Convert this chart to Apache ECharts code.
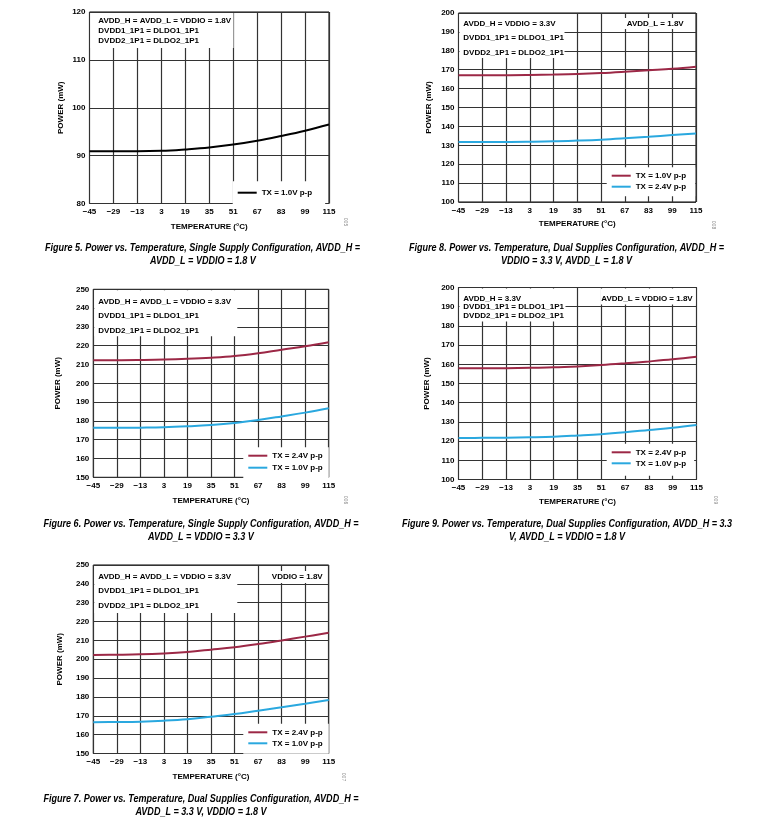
<!DOCTYPE html>
<html>
<head>
<meta charset="utf-8">
<script src="https://cdn.jsdelivr.net/npm/echarts@6/dist/echarts.min.js"></script>
<style>
html,body{margin:0;padding:0;background:#fff;}
#c{width:760px;height:818px;}
</style>
</head>
<body>
<div id="c"></div>
<script>
// ---- data ----
const temps = ['-45','-29','-13','3','19','35','51','67','83','99','115'];

// Figure 5 (single supply, 1.8 V)
const fig5_tx10 = [90.9, 90.9, 90.9, 91.0, 91.3, 91.7, 92.3, 93.1, 94.1, 95.2, 96.5];
// Figure 8 (dual supplies, AVDD_H = VDDIO = 3.3 V, AVDD_L = 1.8 V)
const fig8_tx10 = [167.1, 167.1, 167.1, 167.2, 167.4, 167.7, 168.2, 168.9, 169.7, 170.5, 171.6];
const fig8_tx24 = [131.8, 131.8, 131.8, 131.9, 132.1, 132.5, 133.0, 133.7, 134.5, 135.4, 136.3];
// Figure 6 (single supply, 3.3 V)
const fig6_tx24 = [212.3, 212.3, 212.4, 212.6, 213.0, 213.6, 214.5, 216.0, 217.9, 219.7, 221.8];
const fig6_tx10 = [176.3, 176.3, 176.4, 176.6, 177.1, 177.8, 178.9, 180.5, 182.4, 184.4, 186.7];
// Figure 9 (dual supplies, AVDD_H = 3.3 V, AVDD_L = VDDIO = 1.8 V)
const fig9_tx24 = [157.9, 157.9, 158.0, 158.2, 158.4, 158.9, 159.6, 160.5, 161.5, 162.6, 163.9];
const fig9_tx10 = [121.6, 121.7, 121.8, 122.0, 122.3, 122.9, 123.6, 124.6, 125.8, 127.0, 128.4];
// Figure 7 (dual supplies, AVDD_H = AVDD_L = 3.3 V, VDDIO = 1.8 V)
const fig7_tx24 = [202.3, 202.4, 202.6, 203.1, 203.9, 205.1, 206.4, 208.1, 210.0, 212.0, 214.0];
const fig7_tx10 = [166.6, 166.7, 166.9, 167.4, 168.2, 169.5, 170.9, 172.7, 174.5, 176.4, 178.4];

const RED = '#9c2846', BLUE = '#2aa8df', BLACK = '#000';

// ---- panel layout / styling ----
const panels = [
  { id:'f5', grid:{left:89.5, top:12, width:239.5, height:191.5}, y:[80,120], yGap:25, xGap:19,
    series:[{name:'TX = 1.0V p-p', data:fig5_tx10, color:BLACK}],
    legend:{left:232.7, top:181.2, padding:[7,13,7,5], gap:2} },
  { id:'f8', grid:{left:458.5, top:13, width:237.5, height:189}, y:[100,200], yGap:26, xGap:18,
    series:[{name:'TX = 1.0V p-p', data:fig8_tx10, color:RED},{name:'TX = 2.4V p-p', data:fig8_tx24, color:BLUE}],
    legend:{left:606.7, top:167.2, padding:[4,9,5,5], gap:2} },
  { id:'f6', grid:{left:93.3, top:289.3, width:235.4, height:188}, y:[150,250], yGap:32, xGap:19,
    series:[{name:'TX = 2.4V p-p', data:fig6_tx24, color:RED},{name:'TX = 1.0V p-p', data:fig6_tx10, color:BLUE}],
    legend:{left:243.3, top:447.2, padding:[4,6,6,5], gap:3} },
  { id:'f9', grid:{left:458.5, top:287.5, width:238, height:192}, y:[100,200], yGap:28, xGap:18,
    series:[{name:'TX = 2.4V p-p', data:fig9_tx24, color:RED},{name:'TX = 1.0V p-p', data:fig9_tx10, color:BLUE}],
    legend:{left:606.7, top:443.8, padding:[4,8,8,5], gap:2} },
  { id:'f7', grid:{left:93.3, top:565, width:235.4, height:188.5}, y:[150,250], yGap:30, xGap:19,
    series:[{name:'TX = 2.4V p-p', data:fig7_tx24, color:RED},{name:'TX = 1.0V p-p', data:fig7_tx10, color:BLUE}],
    legend:{left:243.3, top:723.8, padding:[4,6,6,5], gap:2} }
];

const FONT = '"Liberation Sans", Arial, sans-serif';
const grids = [], xAxes = [], yAxes = [], series = [], legends = [];
panels.forEach((p, i) => {
  grids.push(Object.assign({show:true, borderColor:'#000', borderWidth:1, backgroundColor:'#fff'}, p.grid));
  xAxes.push({
    type:'category', gridIndex:i, data:temps, boundaryGap:false,
    name:'TEMPERATURE (°C)', nameLocation:'middle', nameGap:p.xGap,
    nameTextStyle:{fontFamily:FONT, fontWeight:'bold', fontSize:8, color:'#000'},
    axisLine:{show:false}, axisTick:{show:false},
    axisLabel:{fontFamily:FONT, fontWeight:'bold', fontSize:8, color:'#000', margin:4.5, interval:0,
      formatter:v => v.replace('-', '\u2212')},
    splitLine:{show:true, lineStyle:{color:'#333', width:1.2}}
  });
  yAxes.push({
    type:'value', gridIndex:i, min:p.y[0], max:p.y[1], interval:10,
    name:'POWER (mW)', nameLocation:'middle', nameGap:p.yGap,
    nameTextStyle:{fontFamily:FONT, fontWeight:'bold', fontSize:8, color:'#000'},
    axisLine:{show:false}, axisTick:{show:false},
    axisLabel:{fontFamily:FONT, fontWeight:'bold', fontSize:8, color:'#000', margin:4},
    splitLine:{show:true, lineStyle:{color:'#333', width:1.2}}
  });
  const names = [];
  p.series.forEach(s => {
    const nm = p.id + '|' + s.name;
    names.push(nm);
    series.push({
      type:'line', name:nm, xAxisIndex:i, yAxisIndex:i, data:s.data,
      smooth:0.4, showSymbol:false, symbol:'none', color:s.color,
      lineStyle:{color:s.color, width:2}, z:3, animation:false
    });
  });
  legends.push({
    data:names, orient:'vertical', left:p.legend.left, top:p.legend.top,
    padding:p.legend.padding, itemGap:p.legend.gap, backgroundColor:'#fff',
    icon:'rect', itemWidth:19, itemHeight:2, itemStyle:{borderWidth:0},
    selectedMode:false, z:6,
    textStyle:{fontFamily:FONT, fontWeight:'bold', fontSize:8, color:'#000', lineHeight:9, padding:[0,0,0,0]},
    formatter:n => n.split('|')[1]
  });
});

// ---- annotation text boxes ----
const TFONT = 'bold 8px "Liberation Sans", Arial, sans-serif';
const CFONT = 'italic bold 10.5px "Liberation Sans", Arial, sans-serif';
// horizontal condensation of caption font (mimics a narrow face) — measured so line 1 of Fig 5 spans ~315 px
const mctx = document.createElement('canvas').getContext('2d');
mctx.font = CFONT;
const CAP_SCALE = 315 / mctx.measureText('Figure 5. Power vs. Temperature, Single Supply Configuration, AVDD_H =').width;

const g = [];
function box(x, y, w, h){ g.push({type:'rect', shape:{x:x, y:y, width:w, height:h}, style:{fill:'#fff'}, z:5}); }
function txt(s, x, y, align){ g.push({type:'text', z:6, style:{text:s, x:x, y:y, font:TFONT, fill:'#000',
  align:align||'left', verticalAlign:'middle', textAlign:align||'left', textVerticalAlign:'middle'}}); }
function cap(s, x, y){ g.push({type:'text', z:6, x:x, y:y, scaleX:CAP_SCALE, style:{text:s, x:0, y:0, font:CFONT, fill:'#000',
  align:'center', verticalAlign:'middle', textAlign:'center', textVerticalAlign:'middle'}}); }
function fid(s, x, y){ g.push({type:'text', z:6, x:x, y:y, rotation:-Math.PI/2, style:{text:s, x:0, y:0,
  font:'5px "Liberation Sans", Arial, sans-serif', fill:'#888', align:'center', verticalAlign:'middle'}}); }

// Fig 5
box(90.5, 13, 143, 35);
txt('AVDD_H = AVDD_L = VDDIO = 1.8V', 98.3, 20.7);
txt('DVDD1_1P1 = DLDO1_1P1', 98.3, 30.7);
txt('DVDD2_1P1 = DLDO2_1P1', 98.3, 40.7);
// Fig 8
box(459.5, 14, 105, 44);
txt('AVDD_H = VDDIO = 3.3V', 463.3, 23.3);
txt('DVDD1_1P1 = DLDO1_1P1', 463.3, 37.7);
txt('DVDD2_1P1 = DLDO2_1P1', 463.3, 52.3);
box(624, 18, 64, 11);
txt('AVDD_L = 1.8V', 626.7, 23.3);
// Fig 6
box(94.3, 290.3, 143, 46);
txt('AVDD_H = AVDD_L = VDDIO = 3.3V', 98.3, 301.7);
txt('DVDD1_1P1 = DLDO1_1P1', 98.3, 316);
txt('DVDD2_1P1 = DLDO2_1P1', 98.3, 330.7);
// Fig 9
box(459.5, 288.5, 106, 33);
txt('AVDD_H = 3.3V', 463.3, 298.3);
txt('DVDD1_1P1 = DLDO1_1P1', 463.3, 306.9);
txt('DVDD2_1P1 = DLDO2_1P1', 463.3, 315.7);
box(600.5, 288.5, 95, 16);
txt('AVDD_L = VDDIO = 1.8V', 692.7, 298.3, 'right');
// Fig 7
box(94.3, 566, 143, 47);
txt('AVDD_H = AVDD_L = VDDIO = 3.3V', 98.3, 576.7);
txt('DVDD1_1P1 = DLDO1_1P1', 98.3, 591);
txt('DVDD2_1P1 = DLDO2_1P1', 98.3, 606);
box(270, 571, 56, 12);
txt('VDDIO = 1.8V', 322.7, 576.7, 'right');

// captions
cap('Figure 5. Power vs. Temperature, Single Supply Configuration, AVDD_H =', 202.5, 248.3);
cap('AVDD_L = VDDIO = 1.8 V', 203, 261);
cap('Figure 8. Power vs. Temperature, Dual Supplies Configuration, AVDD_H =', 566.5, 248.3);
cap('VDDIO = 3.3 V, AVDD_L = 1.8 V', 566.5, 261);
cap('Figure 6. Power vs. Temperature, Single Supply Configuration, AVDD_H =', 201, 524.3);
cap('AVDD_L = VDDIO = 3.3 V', 201, 537.3);
cap('Figure 9. Power vs. Temperature, Dual Supplies Configuration, AVDD_H = 3.3', 567, 524.3);
cap('V, AVDD_L = VDDIO = 1.8 V', 567, 537.5);
cap('Figure 7. Power vs. Temperature, Dual Supplies Configuration, AVDD_H =', 201, 799.5);
cap('AVDD_L = 3.3 V, VDDIO = 1.8 V', 201, 812.5);

// figure ids
fid('005', 345, 222);
fid('008', 713, 225);
fid('006', 345, 500);
fid('009', 715, 500);
fid('007', 343, 777);

const chart = echarts.init(document.getElementById('c'), null, {renderer:'canvas'});
chart.setOption({
  animation:false,
  backgroundColor:'#fff',
  grid:grids, xAxis:xAxes, yAxis:yAxes, series:series, legend:legends,
  graphic:{elements:g}
});
</script>
</body>
</html>
